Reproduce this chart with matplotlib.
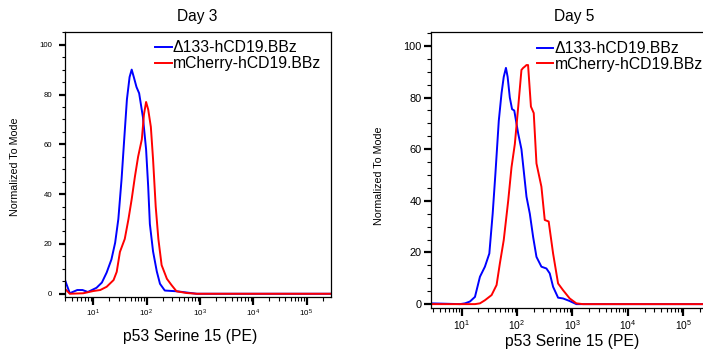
import matplotlib
matplotlib.use('Agg')
import matplotlib.pyplot as plt
from matplotlib.ticker import FixedLocator, LogLocator, MultipleLocator, NullFormatter, FixedFormatter

plt.rcParams['font.family'] = ['Liberation Sans', 'DejaVu Sans']
plt.rcParams['mathtext.fontset'] = 'custom'
plt.rcParams['mathtext.rm'] = 'Liberation Sans'
plt.rcParams['mathtext.it'] = 'Liberation Sans:italic'
plt.rcParams['mathtext.bf'] = 'Liberation Sans:bold'

# ---------------- data ----------------
titles = ['Day 3', 'Day 5']
series_labels = ['\u0394133-hCD19.BBz', 'mCherry-hCD19.BBz']
series_colors = ['#0000ff', '#ff0000']
xlabel = 'p53 Serine 15 (PE)'
ylabel = 'Normalized To Mode'
x_major_ticks = [1e1, 1e2, 1e3, 1e4, 1e5]
x_exponents = ['1', '2', '3', '4', '5']
y_major_ticks = [0, 20, 40, 60, 80, 100]
y_tick_labels = ['0', '20', '40', '60', '80', '100']

# Day 3
day3_d133_x = [2.95, 3.63, 5.0, 6.3, 7.9, 11.5, 14.5, 17.8, 21.9, 25.7, 29.5, 33.9, 38.0,
               42.7, 47.9, 52.5, 57.5, 64.6, 72.4, 85.1, 97.7, 107, 115, 132, 155, 178,
               219, 363, 562, 871, 286000]
day3_d133_y = [5.5, 0.2, 1.5, 1.5, 0.7, 2.4, 4.5, 8.5, 13.8, 20.5, 30, 46, 62,
               78, 87, 90, 87, 83, 80.5, 71, 58, 43, 28, 17, 9, 4,
               1.3, 1.0, 0.5, 0, 0]
day3_mch_x = [2.95, 3.63, 6.46, 10.0, 13.5, 17.8, 24.0, 27.5, 31.6, 38.9, 45.7, 52.5, 60.3,
              69.2, 81.3, 89.1, 97.7, 107, 120, 132, 148, 166, 191, 240, 295, 363, 562,
              871, 286000]
day3_mch_y = [2, 0, 0.2, 1.1, 1.5, 2.8, 5.5, 8.8, 16.8, 22, 30, 38, 47,
              55, 62, 72, 77, 74, 67, 54, 35, 22, 11.5, 6, 3.4, 1, 0.3,
              0, 0]

# Day 5
day5_d133_x = [2.8, 9.33, 11.5, 14.1, 17.4, 21.4, 26.3, 31.6, 36.3, 40.7, 46.8, 52.5, 57.5,
               63.0, 67.6, 74.0, 81.3, 89.0, 105, 120, 148, 170, 195, 224, 275, 339, 389,
               447, 550, 676, 891, 1175, 286000]
day5_d133_y = [0.3, 0, 0.3, 1, 2.8, 10.6, 14.5, 19.6, 35, 50.6, 71, 81.7, 88,
               91.5, 88, 80, 75.5, 75, 66, 60, 41.6, 35, 26, 18.3, 14.5, 13.8, 11.9,
               6.7, 2.5, 2.2, 1.2, 0, 0]
day5_mch_x = [2.8, 17.4, 21.4, 26.3, 34.7, 42.7, 49.0, 57.5, 69.2, 79.4, 91.2, 105, 120,
              129, 138, 148, 158, 178, 200, 224, 275, 316, 372, 447, 550, 676, 891, 1175,
              1549, 286000]
day5_mch_y = [0, 0, 0.3, 1.5, 3.5, 7.4, 15.8, 24.8, 40, 53, 62, 76.5, 90.7,
              91.5, 92, 92.6, 92.6, 76.5, 74, 54.5, 45.5, 32.6, 32, 19.6, 8, 5.4, 2.2, 0.3,
              0, 0]

# ---------------- figure ----------------
W, H = 703, 353
fig = plt.figure(figsize=(W / 100, H / 100), dpi=100)


def fx(px):
    return px / W


def fy(py):
    return 1 - py / H


panels = [
    dict(rect=[fx(65), fy(297), fx(266), 265 / H], xlim=(2.95, 2.86e5), ylim=(-1.3, 105.1),
         series=[(day3_d133_x, day3_d133_y), (day3_mch_x, day3_mch_y)],
         ytl=5.6, ymaj=(4.3, 4.75), ymin=2.0, xtl=5.8, xpad=2.0, space=True,
         title_xy=(197, 16.7), xlab_xy=(190, 336), ylab_xy=(14.7, 167), leg_xy=(155, 40.5)),
    dict(rect=[fx(431), fy(308), fx(277.6), 276 / H], xlim=(2.8, 2.86e5), ylim=(-1.5, 105.4),
         series=[(day5_d133_x, day5_d133_y), (day5_mch_x, day5_mch_y)],
         ytl=7.9, ymaj=(5.0, 1.7), ymin=2.7, xtl=7.4, xpad=1.6, space=False,
         title_xy=(574, 16.7), xlab_xy=(572, 341.5), ylab_xy=(379, 176), leg_xy=(536.7, 41)),
]

for i, p in enumerate(panels):
    ax = fig.add_axes(p['rect'])
    ax.set_xscale('log')
    handles = []
    for (xs, ys), c, lab in zip(p['series'], series_colors, series_labels):
        h, = ax.plot(xs, ys, color=c, lw=1.4, label=lab, solid_joinstyle='round')
        handles.append(h)
    ax.set_xlim(*p['xlim'])
    ax.set_ylim(*p['ylim'])

    for s in ax.spines.values():
        s.set_linewidth(0.9)
        s.set_color('black')

    ax.yaxis.set_major_locator(FixedLocator(y_major_ticks))
    ax.yaxis.set_major_formatter(FixedFormatter(y_tick_labels))
    ax.yaxis.set_minor_locator(MultipleLocator(5))
    ax.tick_params(axis='y', which='major', direction='out', length=p['ymaj'][0], width=1.6,
                   pad=p['ymaj'][1], labelsize=p['ytl'], colors='black')
    ax.tick_params(axis='y', which='minor', direction='out', length=p['ymin'], width=0.8)

    ax.xaxis.set_major_locator(FixedLocator(x_major_ticks))
    if p['space']:
        labs = [r'$\mathregular{10^{\,' + e + '}}$' for e in x_exponents]
    else:
        labs = [r'$\mathregular{10^{' + e + '}}$' for e in x_exponents]
    ax.xaxis.set_major_formatter(FixedFormatter(labs))
    ax.xaxis.set_minor_locator(LogLocator(base=10, subs=range(2, 10), numticks=20))
    ax.xaxis.set_minor_formatter(NullFormatter())
    ax.tick_params(axis='x', which='major', direction='out', length=5.8, width=1.6,
                   pad=p['xpad'], labelsize=p['xtl'], colors='black')
    ax.tick_params(axis='x', which='minor', direction='out', length=2.9, width=0.8)

    leg = ax.legend(handles=handles, loc='upper left',
                    bbox_to_anchor=(fx(p['leg_xy'][0]), fy(p['leg_xy'][1])),
                    bbox_transform=fig.transFigure, frameon=False, borderpad=0,
                    borderaxespad=0, handlelength=1.06, handletextpad=0.08,
                    labelspacing=0.04, fontsize=11.3)
    leg.set_clip_on(False)

    fig.text(fx(p['title_xy'][0]), fy(p['title_xy'][1]), titles[i], ha='center', va='center',
             fontsize=11.2)
    fig.text(fx(p['xlab_xy'][0]), fy(p['xlab_xy'][1]), xlabel, ha='center', va='center',
             fontsize=11.3)
    fig.text(fx(p['ylab_xy'][0]), fy(p['ylab_xy'][1]), ylabel, ha='center', va='center',
             rotation=90, fontsize=7.7)

fig.savefig('out.png', dpi=100)
